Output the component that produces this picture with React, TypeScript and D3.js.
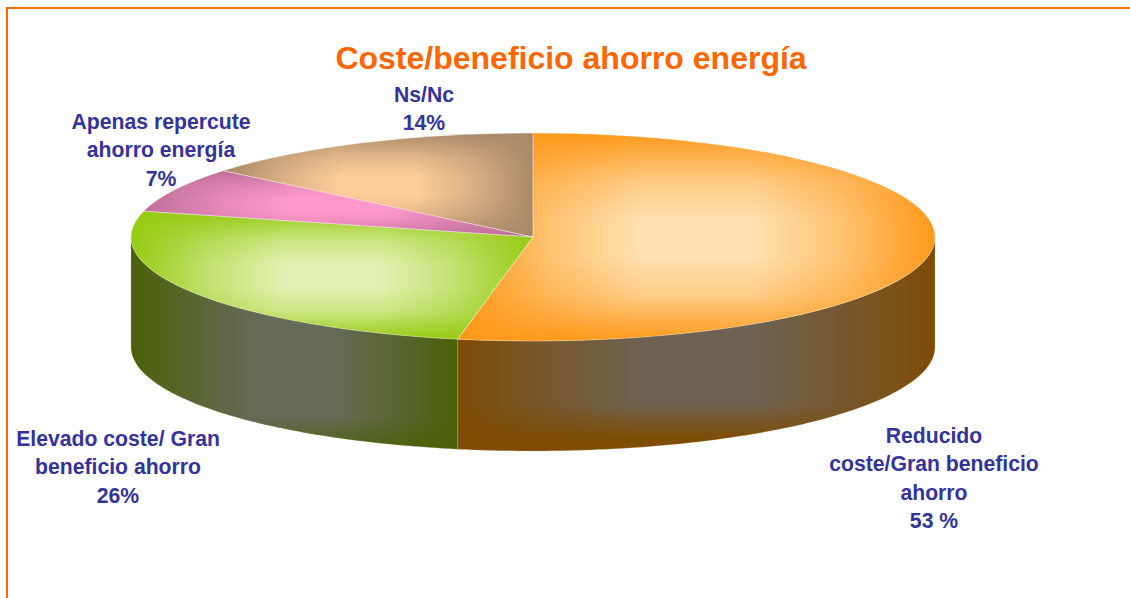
import * as d3 from "d3";

const title = "Coste/beneficio ahorro energía";
const categories = ["Reducido coste/Gran beneficio ahorro", "Elevado coste/ Gran beneficio ahorro", "Apenas repercute ahorro energía", "Ns/Nc"];
const values = [53, 26, 7, 14];
const labelLines = [
  ["Reducido", "coste/Gran beneficio", "ahorro", "53 %"],
  ["Elevado coste/ Gran", "beneficio ahorro", "26%"],
  ["Apenas repercute", "ahorro energía", "7%"],
  ["Ns/Nc", "14%"],
];
const labelAnchors = [
  [934, 436],
  [118, 439],
  [161, 122],
  [424, 95],
];
const edgeColors = ["#ff991a", "#97cc14", "#c0709a", "#a98a68"];
const lightColors = ["#ffe0b0", "#e2f0b2", "#ff99cc", "#ffcc99"];
const sideEdgeColors = ["#7f4c05", "#4b6108"];
const sideLightColors = ["#6e6352", "#666a58"];

// fade stops [offset, strength]
const topFadeH = [[0, 0], [0.2, 0.6], [0.38, 1], [0.62, 1], [0.8, 0.6], [1, 0]];
const topFadeV = [[0, 0], [0.24, 0.72], [0.42, 1], [0.6, 1], [0.78, 0.72], [1, 0]];
const sideFadeH = [[0, 0], [0.22, 0.6], [0.38, 1], [0.62, 1], [0.78, 0.6], [1, 0]];
const sideFadeV = [
  [[0, 1], [0.78, 1], [0.94, 0], [1, 0]],
  [[0, 1], [0.84, 1], [1, 0.1]],
];

const width = 1130;
const height = 598;
const cx = 533;
const cy = 237;
const rx = 402;
const ry = 104;
const depth = 110;

const pie = d3.pie<number>().sort(null).value((d) => d);
const arcs = pie(values);
const arcPath = d3.arc<d3.PieArcDatum<number>>().innerRadius(0).outerRadius(rx);

const px = (a: number) => cx + rx * Math.sin(a);
const py = (a: number) => cy - ry * Math.cos(a);
const line = d3.line<[number, number]>();
const grey = (k: number) => d3.interpolateRgb("#000", "#fff")(k);

// front wall of a slice, only the part that faces the viewer
function sidePath(start: number, end: number) {
  const s = Math.max(start, Math.PI / 2);
  const e = Math.min(end, (3 * Math.PI) / 2);
  if (e <= s) return null;
  const steps = d3.range(0, 81).map((i) => s + ((e - s) * i) / 80);
  const top = steps.map((a) => [px(a), py(a)] as [number, number]);
  const bottom = steps.map((a) => [px(a), py(a) + depth] as [number, number]).reverse();
  return line([...top, ...bottom]) + "Z";
}

function topBox(d: d3.PieArcDatum<number>) {
  const angles = [d.startAngle, d.endAngle];
  [0, Math.PI / 2, Math.PI, (3 * Math.PI) / 2].forEach((a) => {
    if (a > d.startAngle && a < d.endAngle) angles.push(a);
  });
  const xs = [cx, ...angles.map(px)];
  const ys = [cy, ...angles.map(py)];
  return { x0: d3.min(xs)!, x1: d3.max(xs)!, y0: d3.min(ys)!, y1: d3.max(ys)! };
}

// rectangular "path" style glow: horizontal fade masked by a vertical fade
function Glow({ id, path, box, base, light, transform, fadeH, fadeV }: any) {
  const w = box.x1 - box.x0;
  const h = box.y1 - box.y0;
  return (
    <g>
      <path d={path} transform={transform} fill={base} />
      <linearGradient id={`${id}-v`} x1="0" x2="0" y1="0" y2="1">
        {fadeV.map(([o, k]: number[]) => (
          <stop key={o} offset={o} stopColor={grey(k)} />
        ))}
      </linearGradient>
      <linearGradient id={`${id}-h`} x1="0" x2="1" y1="0" y2="0">
        {fadeH.map(([o, k]: number[]) => (
          <stop key={o} offset={o} stopColor={light} stopOpacity={k} />
        ))}
      </linearGradient>
      <mask id={`${id}-m`} maskUnits="userSpaceOnUse" x={box.x0} y={box.y0} width={w} height={h}>
        <rect x={box.x0} y={box.y0} width={w} height={h} fill={`url(#${id}-v)`} />
      </mask>
      <clipPath id={`${id}-c`}>
        <path d={path} transform={transform} />
      </clipPath>
      <g clipPath={`url(#${id}-c)`}>
        <rect x={box.x0} y={box.y0} width={w} height={h} fill={`url(#${id}-h)`} mask={`url(#${id}-m)`} />
      </g>
    </g>
  );
}

export default function App() {
  const topTransform = `translate(${cx},${cy}) scale(1,${ry / rx})`;
  return (
    <svg
      width={width}
      height={height}
      viewBox={`0 0 ${width} ${height}`}
      style={{ position: "absolute", left: 0, top: 0, display: "block", background: "#fff" }}
      fontFamily="'Liberation Sans', Arial, sans-serif"
      fontWeight="bold"
    >
      <path d={`M7 ${height}V8H${width}`} fill="none" stroke="#ff6600" strokeWidth={2} />

      {arcs.map((d, i) => {
        const path = sidePath(d.startAngle, d.endAngle);
        if (!path) return null;
        const a0 = Math.max(d.startAngle, Math.PI / 2);
        const a1 = Math.min(d.endAngle, (3 * Math.PI) / 2);
        const box = { x0: Math.min(px(a0), px(a1)), x1: Math.max(px(a0), px(a1)), y0: cy, y1: cy + ry + depth };
        return (
          <g key={categories[i]}>
            <Glow id={`side${i}`} path={path} box={box} base={sideEdgeColors[i]} light={sideLightColors[i]} fadeH={sideFadeH} fadeV={sideFadeV[i]} />
            <path d={path} fill="none" stroke="#c8b48c" strokeOpacity={0.35} strokeWidth={0.75} />
          </g>
        );
      })}

      {arcs.map((d, i) => (
        <Glow
          key={categories[i]}
          id={`top${i}`}
          path={arcPath(d)!}
          transform={topTransform}
          box={topBox(d)}
          base={edgeColors[i]}
          light={lightColors[i]}
          fadeH={topFadeH}
          fadeV={topFadeV}
        />
      ))}
      {arcs.map((d, i) => (
        <path
          key={categories[i]}
          d={arcPath(d)!}
          transform={topTransform}
          fill="none"
          stroke="#fff"
          strokeOpacity={0.3}
          strokeWidth={1}
          vectorEffect="non-scaling-stroke"
        />
      ))}

      <text x={571} y={69} textAnchor="middle" fontSize={32} fill="#ff6600">
        {title}
      </text>

      {labelLines.map((lines, i) => (
        <text key={categories[i]} textAnchor="middle" fontSize={21.2} fill="#333399">
          {lines.map((t, j) => (
            <tspan key={j} x={labelAnchors[i][0]} y={labelAnchors[i][1] + 7 + j * 28.3}>
              {t}
            </tspan>
          ))}
        </text>
      ))}
    </svg>
  );
}
